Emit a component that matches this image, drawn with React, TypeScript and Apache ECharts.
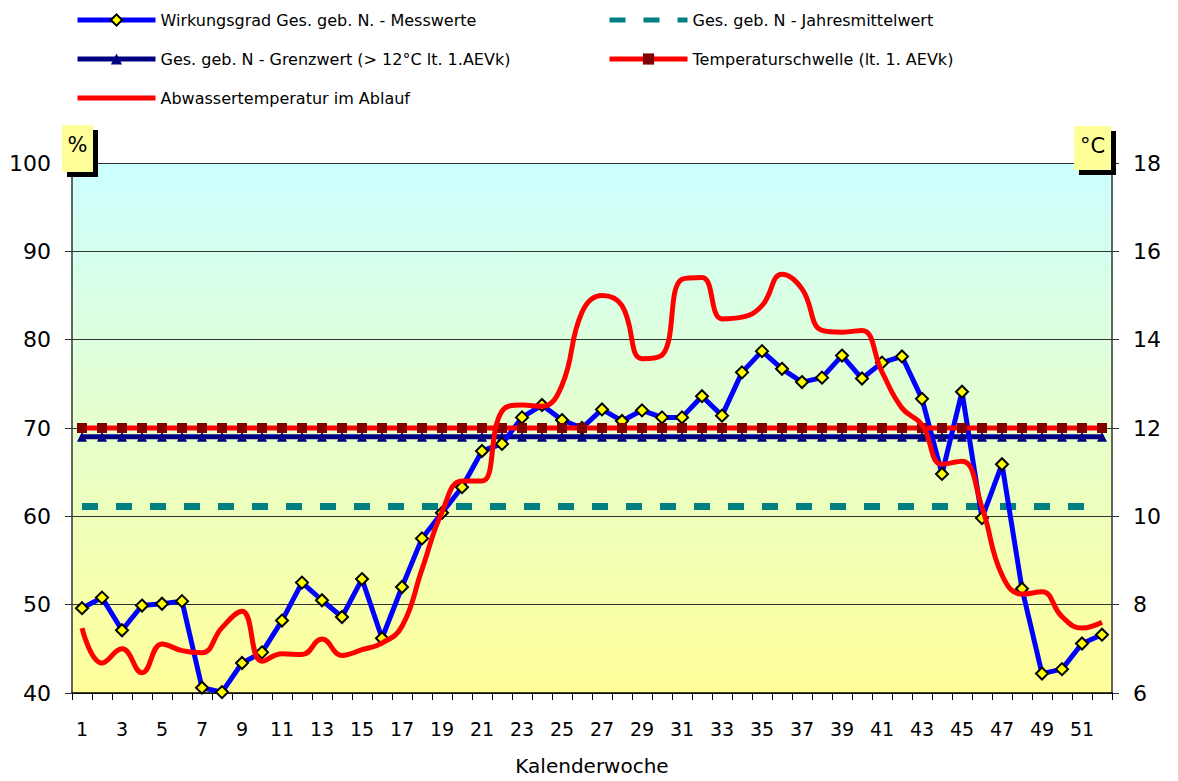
import React, { useEffect, useRef } from "react";
import * as echarts from "echarts";

const weeks = ["1","2","3","4","5","6","7","8","9","10","11","12","13","14","15","16","17","18","19","20","21","22","23","24","25","26","27","28","29","30","31","32","33","34","35","36","37","38","39","40","41","42","43","44","45","46","47","48","49","50","51","52"];

const wirkungsgrad = [49.6, 50.8, 47.1, 49.9, 50.1, 50.4, 40.6, 40.1, 43.4, 44.6, 48.2, 52.5, 50.5, 48.6, 52.9, 46.2, 52.0, 57.5, 60.4, 63.3, 67.4, 68.2, 71.2, 72.6, 70.9, 70.0, 72.1, 70.8, 72.0, 71.2, 71.2, 73.6, 71.4, 76.3, 78.7, 76.7, 75.2, 75.7, 78.2, 75.6, 77.4, 78.1, 73.3, 64.8, 74.1, 59.8, 65.9, 51.8, 42.2, 42.7, 45.6, 46.6];

const abwassertemperatur = [7.47, 6.68, 7.0, 6.46, 7.11, 6.96, 6.91, 7.48, 7.85, 6.72, 6.89, 6.87, 7.22, 6.85, 6.98, 7.13, 7.51, 8.8, 10.1, 10.8, 10.8, 12.38, 12.52, 12.49, 12.97, 14.62, 15.0, 14.77, 13.57, 13.65, 15.37, 15.41, 14.47, 14.51, 14.77, 15.48, 15.15, 14.21, 14.17, 14.21, 13.27, 12.45, 12.07, 11.18, 11.25, 10.2, 8.67, 8.24, 8.29, 7.73, 7.47, 7.6];

const jahresmittelwert = 61.1;
const grenzwert = 69;
const temperaturschwelle = 12;

const leftTicks = { min: 40, max: 100, interval: 10 };
const rightTicks = { min: 6, max: 18, interval: 2 };

const NAMES = {
  w: "Wirkungsgrad Ges. geb. N. - Messwerte",
  j: "Ges. geb. N - Jahresmittelwert",
  g: "Ges. geb. N - Grenzwert (> 12°C lt. 1.AEVk)",
  t: "Temperaturschwelle (lt. 1. AEVk)",
  a: "Abwassertemperatur im Ablauf",
};

const FONT = "DejaVu Sans";

export default function App() {
  const ref = useRef<HTMLDivElement>(null);
  useEffect(() => {
    if (!ref.current) return;
    const chart = echarts.init(ref.current, null, { renderer: "svg" });
    const legendCommon = {
      orient: "vertical",
      itemWidth: 78,
      itemHeight: 14,
      itemGap: 23,
      top: 12,
      padding: 0,
      lineStyle: { width: 5 },
      textStyle: { fontSize: 16, fontFamily: FONT, color: "#000" },
    };
    chart.setOption({
      animation: false,
      backgroundColor: "#fff",
      legend: [
        {
          ...legendCommon,
          left: 75,
          data: [NAMES.w, NAMES.g, { name: NAMES.a, itemStyle: { opacity: 0 } }],
        },
        {
          ...legendCommon,
          left: 607,
          data: [{ name: NAMES.j, itemStyle: { opacity: 0 } }, NAMES.t],
        },
      ],
      grid: {
        left: 72,
        right: 66,
        top: 163,
        bottom: 84,
        show: true,
        borderWidth: 0,
        backgroundColor: new echarts.graphic.LinearGradient(0, 0, 0, 1, [
          { offset: 0, color: "#CCFFFF" },
          { offset: 1, color: "#FFFF99" },
        ]),
      },
      xAxis: {
        type: "category",
        data: weeks,
        boundaryGap: true,
        name: "Kalenderwoche",
        nameLocation: "middle",
        nameGap: 63,
        nameTextStyle: { fontSize: 20, fontFamily: FONT, color: "#000" },
        axisLine: { lineStyle: { color: "#000", width: 1.5 } },
        axisTick: { show: true, interval: 0, length: 7, lineStyle: { color: "#000" } },
        axisLabel: { interval: 1, margin: 26, fontSize: 19, fontFamily: FONT, color: "#000" },
      },
      yAxis: [
        {
          type: "value",
          ...leftTicks,
          position: "left",
          axisLine: { show: true, lineStyle: { color: "#333", width: 1.5 } },
          axisTick: { show: true, length: 7, lineStyle: { color: "#333" } },
          axisLabel: { margin: 21, fontSize: 22, fontFamily: FONT, color: "#000" },
          splitLine: { show: true, lineStyle: { color: "#333", width: 1 } },
        },
        {
          type: "value",
          ...rightTicks,
          position: "right",
          axisLine: { show: true, lineStyle: { color: "#333", width: 1.5 } },
          axisTick: { show: true, length: 7, lineStyle: { color: "#333" } },
          axisLabel: { margin: 21, fontSize: 22, fontFamily: FONT, color: "#000" },
          splitLine: { show: false },
        },
      ],
      series: [
        {
          name: NAMES.j,
          type: "line",
          yAxisIndex: 0,
          data: weeks.map(() => jahresmittelwert),
          symbol: "none",
          lineStyle: { color: "#008080", width: 7, type: [16, 18] },
          itemStyle: { color: "#008080" },
          z: 2,
        },
        {
          name: NAMES.g,
          type: "line",
          yAxisIndex: 0,
          data: weeks.map(() => grenzwert),
          symbol: "triangle",
          symbolSize: 10,
          lineStyle: { color: "#000080", width: 5 },
          itemStyle: { color: "#000080" },
          z: 3,
        },
        {
          name: NAMES.w,
          type: "line",
          yAxisIndex: 0,
          data: wirkungsgrad,
          symbol: "diamond",
          symbolSize: 12,
          lineStyle: { color: "#0000FF", width: 5 },
          itemStyle: { color: "#FFFF00", borderColor: "#000", borderWidth: 2 },
          z: 4,
        },
        {
          name: NAMES.t,
          type: "line",
          yAxisIndex: 1,
          data: weeks.map(() => temperaturschwelle),
          symbol: "rect",
          symbolSize: 10,
          lineStyle: { color: "#FF0000", width: 5 },
          itemStyle: { color: "#800000" },
          z: 5,
        },
        {
          name: NAMES.a,
          type: "line",
          yAxisIndex: 1,
          data: abwassertemperatur,
          symbol: "none",
          smooth: 0.45,
          lineStyle: { color: "#FF0000", width: 5 },
          itemStyle: { color: "#FF0000" },
          z: 6,
        },
      ],
      graphic: [
        { type: "rect", z: 100, shape: { x: 67, y: 130, width: 31, height: 47 }, style: { fill: "#000" } },
        { type: "rect", z: 101, shape: { x: 62, y: 125, width: 31, height: 47 }, style: { fill: "#FFFF99" } },
        { type: "text", z: 102, x: 77.5, y: 145, style: { text: "%", fontSize: 21, fontFamily: FONT, fill: "#000", align: "center", verticalAlign: "middle" } },
        { type: "rect", z: 100, shape: { x: 1079, y: 131, width: 37, height: 44 }, style: { fill: "#000" } },
        { type: "rect", z: 101, shape: { x: 1074, y: 126, width: 37, height: 44 }, style: { fill: "#FFFF99" } },
        { type: "text", z: 102, x: 1092.5, y: 146, style: { text: "°C", fontSize: 21, fontFamily: FONT, fill: "#000", align: "center", verticalAlign: "middle" } },
      ],
    });
    return () => chart.dispose();
  }, []);
  return <div ref={ref} style={{ position: "absolute", left: 0, top: 0, width: 1178, height: 781 }} />;
}
